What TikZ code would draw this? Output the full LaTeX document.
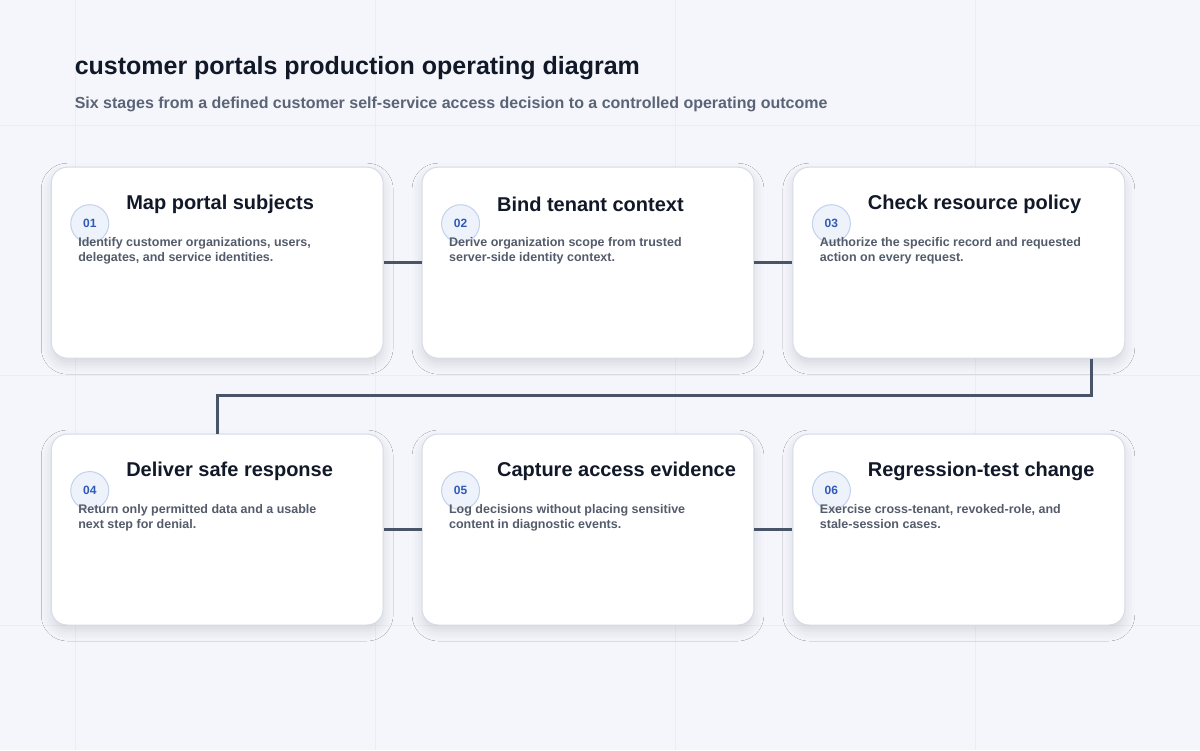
\documentclass[tikz,border=0pt]{standalone}
\usepackage{fontspec}
\setmainfont{Liberation Sans}
\usetikzlibrary{shadows.blur,positioning}
\definecolor{bg}{HTML}{F4F6FB}
\definecolor{gridc}{HTML}{E9EDF5}
\definecolor{ink}{HTML}{111827}
\definecolor{sub}{HTML}{5B6476}
\definecolor{desc}{HTML}{545C6B}
\definecolor{cardb}{HTML}{D5DCE8}
\definecolor{badgef}{HTML}{EEF2FB}
\definecolor{badged}{HTML}{C3D1EC}
\definecolor{badget}{HTML}{2F5BB5}
\definecolor{conn}{HTML}{485569}
\begin{document}
\begin{tikzpicture}[x=1pt,y=-1pt,
 card/.style={draw=cardb,line width=1pt,fill=white,rounded corners=16pt,minimum width=332pt,minimum height=191pt,inner sep=0pt,
   blur shadow={shadow xshift=0pt,shadow yshift=-6pt,shadow blur radius=10pt,shadow opacity=12}},
 badge/.style={circle,draw=badged,line width=1pt,fill=badgef,minimum size=38pt,inner sep=0pt,font=\fontsize{12}{14}\selectfont\bfseries,text=badget},
 ttl/.style={anchor=west,font=\fontsize{20}{24}\selectfont\bfseries,text=ink},
 dsc/.style={anchor=north west,align=left,font=\fontsize{12.5}{15}\selectfont\bfseries,text=desc},
 link/.style={draw=conn,line width=3pt}]
\fill[bg] (0,0) rectangle (1200,750);
\foreach \x in {75,375,675,975} \draw[gridc,line width=0.6pt] (\x,0) -- (\x,750);
\foreach \y in {125,375,625} \draw[gridc,line width=0.6pt] (0,\y) -- (1200,\y);
\useasboundingbox (0,0) rectangle (1200,750);
\node[anchor=west,font=\fontsize{25}{30}\selectfont\bfseries,text=ink] (title) at (71,68) {customer portals production operating diagram};
\node[anchor=west,font=\fontsize{16}{20}\selectfont\bfseries,text=sub] (subt) at (71,104) {Six stages from a defined customer self-service access decision to a controlled operating outcome};
% connectors
\coordinate (p1) at (217,262.5);
\node[card] (c1) at (217,262.5) {};
\node[card] (c2) at (588,262.5) {};
\node[card] (c3) at (959,262.5) {};
\node[card] (c4) at (217,529.5) {};
\node[card] (c5) at (588,529.5) {};
\node[card] (c6) at (959,529.5) {};
\draw[link] (c1.east) -- (c2.west);
\draw[link] (c2.east) -- (c3.west);
\draw[link] ([xshift=-34pt]c3.south east) -- ++(0,37) -| (c4.north);
\draw[link] (c4.east) -- (c5.west);
\draw[link] (c5.east) -- (c6.west);
\foreach \c/\n/\t/\d in {
 c1/01/Map portal subjects/{Identify customer organizations, users,\\delegates, and service identities.},
 c2/02/Bind tenant context/{Derive organization scope from trusted\\server-side identity context.},
 c3/03/Check resource policy/{Authorize the specific record and requested\\action on every request.},
 c4/04/Deliver safe response/{Return only permitted data and a usable\\next step for denial.},
 c5/05/Capture access evidence/{Log decisions without placing sensitive\\content in diagnostic events.},
 c6/06/Regression-test change/{Exercise cross-tenant, revoked-role, and\\stale-session cases.}}{
 \node[badge] (b\c) at ([xshift=39pt,yshift=-57pt]\c.north west) {\n};
 \node[ttl] (t\c) at ([xshift=72pt,yshift=-38pt]\c.north west) {\t};
 \node[dsc] (d\c) at ([xshift=24pt,yshift=-67pt]\c.north west) {\d};
}
\end{tikzpicture}
\end{document}
